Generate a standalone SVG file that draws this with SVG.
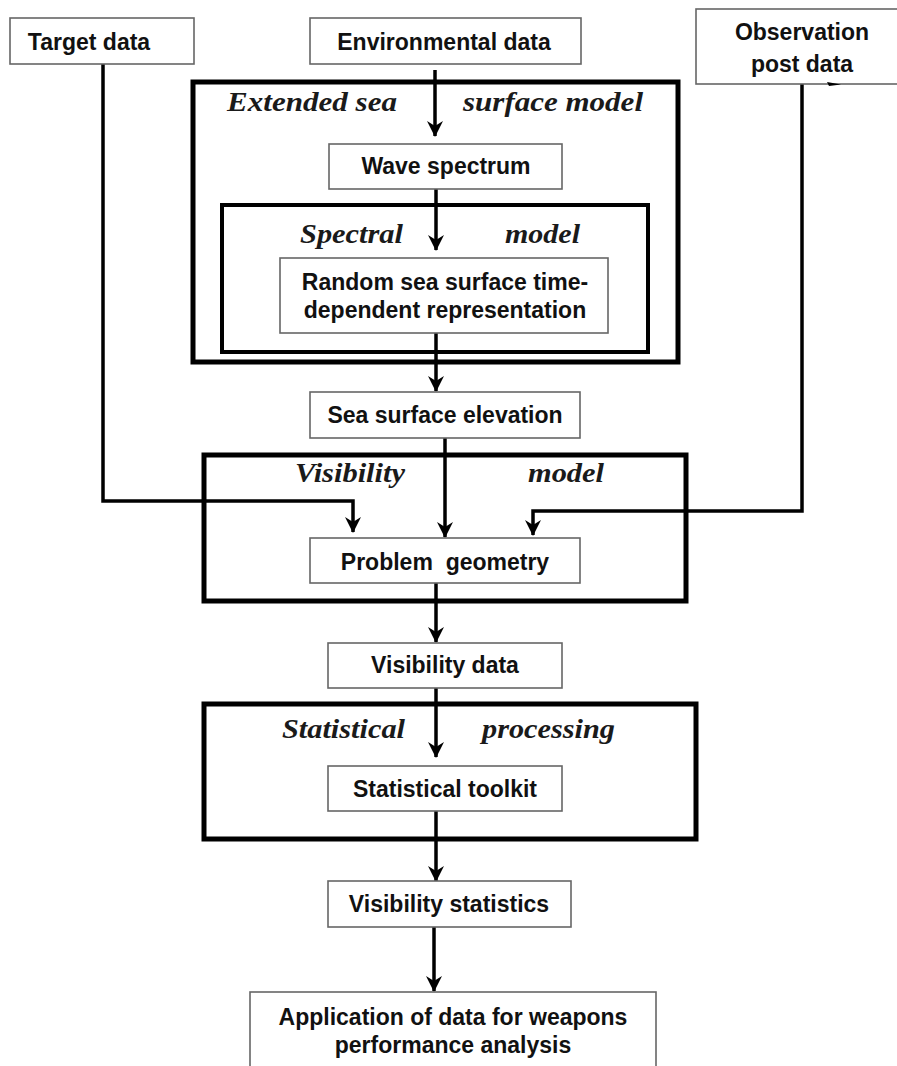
<svg xmlns="http://www.w3.org/2000/svg" width="897" height="1066" viewBox="0 0 897 1066">
<defs>
<marker id="ah" markerUnits="userSpaceOnUse" markerWidth="18" markerHeight="18" viewBox="-1 -9 18 18" refX="15" refY="0" orient="auto">
<path d="M0,-8 L16,0 L0,8 L5,0 z" fill="#000"/>
</marker>
<style>
.box{fill:#fff;stroke:#666;stroke-width:1.6}
.cont{fill:none;stroke:#000;stroke-width:5}
.cont2{fill:none;stroke:#000;stroke-width:4}
.t{font-family:"Liberation Sans",Arial,sans-serif;font-weight:bold;font-size:23px;fill:#111;text-anchor:middle}
.it{font-family:"Liberation Serif","Times New Roman",serif;font-style:italic;font-weight:bold;font-size:27px;fill:#1a1a1a}
.c{fill:none;stroke:#000;stroke-width:3.5;marker-end:url(#ah)}
</style>
</defs>
<rect width="897" height="1066" fill="#fff"/>
<g id="containers">
<g id="extended-sea-surface-model">
<rect class="cont" x="193" y="82" width="485" height="280"/>
<text class="it" x="227" y="111" textLength="170" lengthAdjust="spacingAndGlyphs">Extended sea</text>
<text class="it" x="463" y="111" textLength="180" lengthAdjust="spacingAndGlyphs">surface model</text>
</g>
<g id="spectral-model">
<rect class="cont2" x="222" y="205" width="426" height="147"/>
<text class="it" x="300" y="243" textLength="103" lengthAdjust="spacingAndGlyphs">Spectral</text>
<text class="it" x="505" y="243" textLength="75" lengthAdjust="spacingAndGlyphs">model</text>
</g>
<g id="visibility-model">
<rect class="cont" x="204" y="455" width="482" height="146"/>
<text class="it" x="295" y="482" textLength="110" lengthAdjust="spacingAndGlyphs">Visibility</text>
<text class="it" x="528" y="482" textLength="76" lengthAdjust="spacingAndGlyphs">model</text>
</g>
<g id="statistical-processing">
<rect class="cont" x="204" y="704" width="492" height="135"/>
<text class="it" x="282" y="738" textLength="123" lengthAdjust="spacingAndGlyphs">Statistical</text>
<text class="it" x="482" y="738" textLength="133" lengthAdjust="spacingAndGlyphs">processing</text>
</g>
</g>
<g id="connectors">
<path class="c" d="M435,70 V136"/>
<path class="c" d="M436,189 V250"/>
<path class="c" d="M436,333 V391"/>
<path class="c" d="M445,438 V537"/>
<path class="c" d="M103,64 V501 H353 V532"/>
<path class="c" d="M802,84 V511 H533 V535"/>
<path class="c" d="M436,583 V642"/>
<path class="c" d="M436,688 V757"/>
<path class="c" d="M436,811 V881"/>
<path class="c" d="M434,927 V991"/>
</g>
<g id="target-data">
<rect class="box" x="10" y="18" width="184" height="46"/>
<text class="t" x="89" y="50">Target data</text>
</g>
<g id="environmental-data">
<rect class="box" x="310" y="18" width="271" height="46"/>
<text class="t" x="444" y="50">Environmental data</text>
</g>
<g id="observation-post-data">
<rect class="box" x="696" y="9" width="215" height="75"/>
<text class="t" x="802" y="40">Observation</text>
<text class="t" x="802" y="72">post data</text>
<path d="M827,82 L841,84.5 L829,86 z" fill="#000"/>
</g>
<g id="wave-spectrum">
<rect class="box" x="329" y="144" width="233" height="45"/>
<text class="t" x="446" y="174">Wave spectrum</text>
</g>
<g id="random-sea-surface">
<rect class="box" x="280" y="258" width="328" height="75"/>
<text class="t" x="445" y="290">Random sea surface time-</text>
<text class="t" x="445" y="318">dependent representation</text>
</g>
<g id="sea-surface-elevation">
<rect class="box" x="310" y="392" width="270" height="46"/>
<text class="t" x="445" y="423">Sea surface elevation</text>
</g>
<g id="problem-geometry">
<rect class="box" x="310" y="538" width="270" height="45"/>
<text class="t" x="445" y="570" xml:space="preserve">Problem  geometry</text>
</g>
<g id="visibility-data">
<rect class="box" x="328" y="643" width="234" height="45"/>
<text class="t" x="445" y="673">Visibility data</text>
</g>
<g id="statistical-toolkit">
<rect class="box" x="328" y="766" width="234" height="45"/>
<text class="t" x="445" y="797">Statistical toolkit</text>
</g>
<g id="visibility-statistics">
<rect class="box" x="328" y="881" width="243" height="46"/>
<text class="t" x="449" y="912">Visibility statistics</text>
</g>
<g id="application">
<rect class="box" x="250" y="992" width="406" height="100"/>
<text class="t" x="453" y="1025">Application of data for weapons</text>
<text class="t" x="453" y="1053">performance analysis</text>
</g>
</svg>
